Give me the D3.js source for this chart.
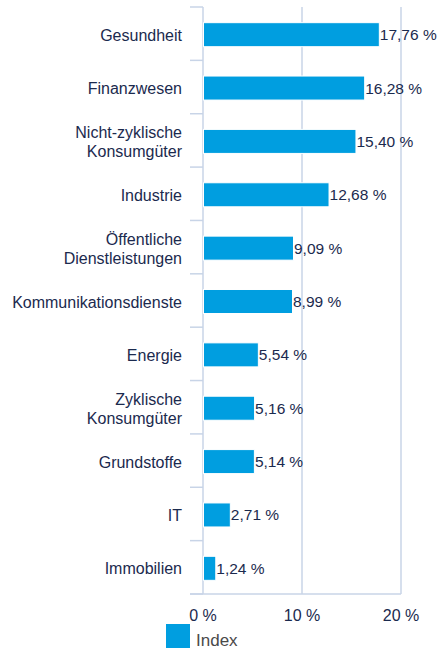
<!DOCTYPE html>
<html>
<head>
<meta charset="utf-8">
<script src="https://cdn.jsdelivr.net/npm/d3@7"></script>
<style>
  html, body { margin: 0; padding: 0; background: #ffffff; }
  svg { display: block; font-family: "Liberation Sans", Arial, sans-serif; }
</style>
</head>
<body>
<svg id="chart" width="438" height="650"></svg>
<script>
// Sector weights of the index (percent)
const categories = [
  ["Gesundheit"],
  ["Finanzwesen"],
  ["Nicht-zyklische", "Konsumgüter"],
  ["Industrie"],
  ["Öffentliche", "Dienstleistungen"],
  ["Kommunikationsdienste"],
  ["Energie"],
  ["Zyklische", "Konsumgüter"],
  ["Grundstoffe"],
  ["IT"],
  ["Immobilien"]
];
const values = [17.76, 16.28, 15.40, 12.68, 9.09, 8.99, 5.54, 5.16, 5.14, 2.71, 1.24];
const xTicks = [0, 10, 20];
const legendLabel = "Index";

const barColor = "#009ee0";
const textColor = "#1b2a4e";
const gridColor = "#c8d4e7";

const svg = d3.select("#chart");
const keys = categories.map(c => c.join(" "));
const fmt = v => d3.format(".2f")(v).replace(".", ",") + " %";

const x = d3.scaleLinear().domain([0, 20]).range([203, 401]);
const y = d3.scaleBand().domain(keys).range([7, 594])
  .paddingInner(0.55).paddingOuter(0.275);
const step = y.step();
const plotTop = 7, plotBottom = 594;

// vertical gridlines
svg.append("g").selectAll("line").data(xTicks.slice(1)).join("line")
  .attr("x1", d => x(d)).attr("x2", d => x(d))
  .attr("y1", plotTop).attr("y2", plotBottom)
  .attr("stroke", gridColor).attr("stroke-width", 1.5);

// category axis line and boundary ticks
svg.append("line")
  .attr("x1", x(0)).attr("x2", x(0)).attr("y1", plotTop).attr("y2", plotBottom)
  .attr("stroke", gridColor).attr("stroke-width", 1.5);
svg.append("g").selectAll("line").data(d3.range(keys.length + 1)).join("line")
  .attr("x1", 190).attr("x2", x(0))
  .attr("y1", i => plotTop + i * step).attr("y2", i => plotTop + i * step)
  .attr("stroke", gridColor).attr("stroke-width", 1.5);
// bottom axis line
svg.append("line")
  .attr("x1", 190).attr("x2", x(20)).attr("y1", plotBottom).attr("y2", plotBottom)
  .attr("stroke", gridColor).attr("stroke-width", 1.5);

// bars
svg.append("g").selectAll("rect").data(values).join("rect")
  .attr("x", x(0) + 0.5)
  .attr("y", (d, i) => y(keys[i]) + 1)
  .attr("width", d => x(d) - x(0))
  .attr("height", y.bandwidth())
  .attr("fill", barColor)
  .attr("stroke", "#ffffff").attr("stroke-width", 1);

// value labels
svg.append("g").selectAll("text").data(values).join("text")
  .attr("x", d => x(d) + 1)
  .attr("y", (d, i) => y(keys[i]) + 1 + y.bandwidth() / 2 + 5.5)
  .attr("fill", textColor).attr("font-size", 15.5)
  .text(d => fmt(d));

// category labels
const lineH = 19;
const catG = svg.append("g");
categories.forEach((lines, i) => {
  const cy = y(keys[i]) + 1 + y.bandwidth() / 2 + 6;
  const t = catG.append("text")
    .attr("text-anchor", "end").attr("fill", textColor).attr("font-size", 16);
  lines.forEach((ln, j) => {
    t.append("tspan").attr("x", 182)
      .attr("y", cy + (j - (lines.length - 1) / 2) * lineH)
      .text(ln);
  });
});

// x tick labels
svg.append("g").selectAll("text").data(xTicks).join("text")
  .attr("x", d => x(d)).attr("y", 621)
  .attr("text-anchor", "middle").attr("fill", textColor).attr("font-size", 16)
  .text(d => d + " %");

// legend
svg.append("rect").attr("x", 166).attr("y", 624).attr("width", 24).attr("height", 24)
  .attr("fill", barColor);
svg.append("text").attr("x", 196).attr("y", 646)
  .attr("fill", "#4a4a4a").attr("font-size", 17)
  .text(legendLabel);
</script>
</body>
</html>
